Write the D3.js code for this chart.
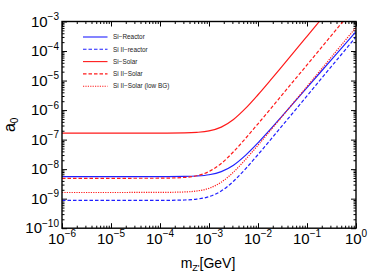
<!DOCTYPE html>
<html>
<head>
<meta charset="utf-8">
<script src="https://cdn.jsdelivr.net/npm/d3@7"></script>
<style>
  html, body { margin: 0; padding: 0; background: #fff; }
  svg { display: block; font-family: "Liberation Sans", Arial, sans-serif; }
</style>
</head>
<body>
<svg id="chart" width="368" height="273"></svg>
<script>
// ---- data ----
const massGeV = [1e-6, 1e-5, 1e-4, 3.16e-4, 5.62e-4, 1e-3, 1.78e-3, 3.16e-3, 5.62e-3, 1e-2, 1.78e-2, 3.16e-2, 0.1, 0.316, 1];
const siReactor      = [5.55e-9, 5.55e-9, 5.56e-9, 5.65e-9, 5.85e-9, 6.46e-9, 8.26e-9, 1.36e-8, 2.98e-8, 7.78e-8, 2.21e-7, 6.50e-7, 5.75e-6, 5.13e-5, 4.57e-4];
const siIIReactor    = [8.71e-10, 8.71e-10, 8.75e-10, 9.02e-10, 9.66e-10, 1.17e-9, 1.82e-9, 3.89e-9, 1.04e-8, 3.11e-8, 9.64e-8, 3.03e-7, 3.02e-6, 3.02e-5, 3.02e-4];
const siSolar        = [1.66e-7, 1.66e-7, 1.66e-7, 1.69e-7, 1.76e-7, 1.97e-7, 2.65e-7, 4.81e-7, 1.16e-6, 3.31e-6, 1.01e-5, 3.16e-5, 3.15e-4, 3.15e-3, 3.15e-2];
const siIISolar      = [4.90e-9, 4.90e-9, 4.93e-9, 5.24e-9, 5.97e-9, 8.28e-9, 1.56e-8, 3.88e-8, 1.12e-7, 3.44e-7, 1.07e-6, 3.39e-6, 3.39e-5, 3.39e-4, 3.39e-3];
const siIISolarLowBG = [1.62e-9, 1.62e-9, 1.63e-9, 1.69e-9, 1.82e-9, 2.25e-9, 3.61e-9, 7.93e-9, 2.16e-8, 6.47e-8, 2.01e-7, 6.32e-7, 6.31e-6, 6.31e-5, 6.31e-4];

const seriesNames  = ["Si\u2212Reactor", "Si II\u2212reactor", "Si\u2212Solar", "Si II\u2212Solar", "Si II\u2212Solar (low BG)"];
const seriesValues = [siReactor, siIIReactor, siSolar, siIISolar, siIISolarLowBG];
const seriesColors = ["#1f1fff", "#1f1fff", "#ff1a1a", "#ff1a1a", "#ff1a1a"];
const seriesDash   = [null, "3.5,2", null, "3.5,2", "1.2,1.2"];

const xTickExponents = [-6, -5, -4, -3, -2, -1, 0];
const yTickExponents = [-10, -9, -8, -7, -6, -5, -4, -3];
const xLabelMain = "m";
const xLabelSub = "Z'";
const xLabelUnit = "[GeV]";
const yLabelMain = "a";
const yLabelSub = "0";

// ---- layout ----
const W = 368, H = 273;
const L = 62, R = 356, T = 21.5, B = 228.2;

const svg = d3.select("#chart");
const x = d3.scaleLog().domain([1e-6, 1]).range([L, R]);
const y = d3.scaleLog().domain([1e-10, 1e-3]).range([B, T]);

svg.append("defs").append("clipPath").attr("id", "plotclip")
  .append("rect").attr("x", L).attr("y", T).attr("width", R - L).attr("height", B - T);

// ---- ticks ----
function minorVals(lo, hi) {
  const out = [];
  for (let e = lo; e < hi; e++) for (let k = 2; k <= 9; k++) out.push(k * Math.pow(10, e));
  return out;
}
const xMajor = xTickExponents.map(e => Math.pow(10, e));
const yMajor = yTickExponents.map(e => Math.pow(10, e));
const xMinor = minorVals(-6, 0);
const yMinor = minorVals(-10, -3);

const majLen = 5, minLen = 2.5;
function styleAxis(g) {
  g.select(".domain").remove();
  g.selectAll(".tick line").attr("stroke", "#000").attr("stroke-width", 1);
  g.selectAll(".tick text").remove();
}
// bottom
svg.append("g").attr("transform", `translate(0,${B})`)
  .call(d3.axisBottom(x).tickValues(xMinor).tickSize(-minLen).tickFormat("")).call(styleAxis);
svg.append("g").attr("transform", `translate(0,${B})`)
  .call(d3.axisBottom(x).tickValues(xMajor).tickSize(-majLen).tickFormat("")).call(styleAxis);
// top
svg.append("g").attr("transform", `translate(0,${T})`)
  .call(d3.axisTop(x).tickValues(xMinor).tickSize(-minLen).tickFormat("")).call(styleAxis);
svg.append("g").attr("transform", `translate(0,${T})`)
  .call(d3.axisTop(x).tickValues(xMajor).tickSize(-majLen).tickFormat("")).call(styleAxis);
// left
svg.append("g").attr("transform", `translate(${L},0)`)
  .call(d3.axisLeft(y).tickValues(yMinor).tickSize(-minLen).tickFormat("")).call(styleAxis);
svg.append("g").attr("transform", `translate(${L},0)`)
  .call(d3.axisLeft(y).tickValues(yMajor).tickSize(-majLen).tickFormat("")).call(styleAxis);
// right
svg.append("g").attr("transform", `translate(${R},0)`)
  .call(d3.axisRight(y).tickValues(yMinor).tickSize(-minLen).tickFormat("")).call(styleAxis);
svg.append("g").attr("transform", `translate(${R},0)`)
  .call(d3.axisRight(y).tickValues(yMajor).tickSize(-majLen).tickFormat("")).call(styleAxis);

// tick labels
function powLabel(sel, e) {
  sel.append("tspan").attr("font-size", 15).text("10");
  sel.append("tspan").attr("font-size", 10).attr("dy", -6.5).text(String(e).replace("-", "\u2212"));
}
xTickExponents.forEach(e => {
  const t = svg.append("text").attr("x", x(Math.pow(10, e))).attr("y", 243.5)
    .attr("text-anchor", "middle").attr("fill", "#000");
  powLabel(t, e);
});
yTickExponents.forEach(e => {
  const t = svg.append("text").attr("x", 59).attr("y", y(Math.pow(10, e)) + 5)
    .attr("text-anchor", "end").attr("fill", "#000");
  powLabel(t, e);
});

// axis titles
const xt = svg.append("text").attr("x", (L + R) / 2 - 1).attr("y", 268)
  .attr("text-anchor", "middle").attr("font-size", 14).attr("fill", "#000");
xt.append("tspan").text(xLabelMain);
xt.append("tspan").attr("font-size", 9).attr("dy", 3).text(xLabelSub);
xt.append("tspan").attr("dy", -3).text(xLabelUnit);

const yt = svg.append("text").attr("transform", `translate(15,${(T + B) / 2}) rotate(-90)`)
  .attr("text-anchor", "middle").attr("font-size", 16).attr("fill", "#000");
yt.append("tspan").text(yLabelMain);
yt.append("tspan").attr("font-size", 10).attr("dy", 3).text(yLabelSub);

// ---- curves ----
const line = d3.line().x(d => x(d[0])).y(d => y(d[1])).curve(d3.curveMonotoneX);
const plot = svg.append("g").attr("clip-path", "url(#plotclip)");
seriesValues.forEach((vals, i) => {
  const pts = massGeV.map((m, j) => [m, vals[j]]);
  plot.append("path").datum(pts).attr("d", line)
    .attr("fill", "none").attr("stroke", seriesColors[i]).attr("stroke-width", 1.2)
    .attr("stroke-dasharray", seriesDash[i]);
});

// ---- legend ----
const legY0 = 37, legDy = 12.3;
seriesNames.forEach((name, i) => {
  const yy = legY0 + i * legDy;
  svg.append("line").attr("x1", 83).attr("x2", 107.5).attr("y1", yy).attr("y2", yy)
    .attr("stroke", seriesColors[i]).attr("stroke-width", 1.1)
    .attr("stroke-dasharray", seriesDash[i]);
  svg.append("text").attr("x", 113).attr("y", yy + 2.2).attr("font-size", 6.4)
    .attr("fill", "#222").text(name);
});

// frame
svg.append("rect").attr("x", L).attr("y", T).attr("width", R - L).attr("height", B - T)
  .attr("fill", "none").attr("stroke", "#000").attr("stroke-width", 1.4);
</script>
</body>
</html>
